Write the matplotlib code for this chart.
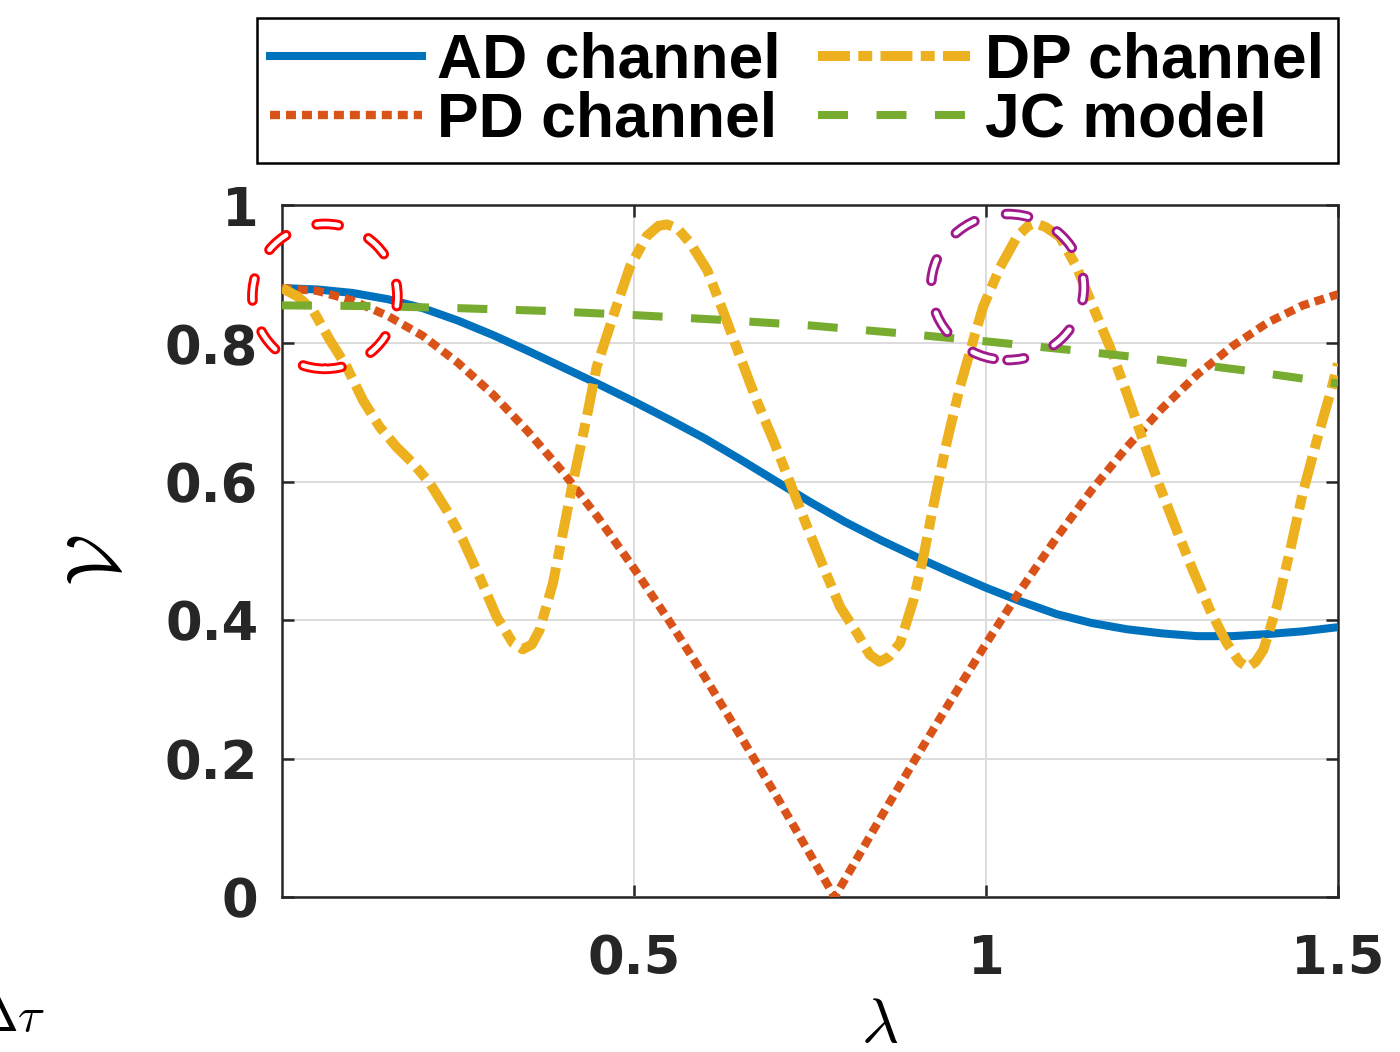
import matplotlib
matplotlib.use('Agg')
import matplotlib.pyplot as plt
from matplotlib.patches import Ellipse

# values
ad_lam = [0.00, 0.05, 0.10, 0.15, 0.20, 0.25, 0.30, 0.35, 0.40, 0.45, 0.50, 0.55, 0.60, 0.65, 0.70, 0.75,
          0.80, 0.85, 0.90, 0.95, 1.00, 1.05, 1.10, 1.15, 1.20, 1.25, 1.30, 1.35, 1.40, 1.45, 1.50]
ad_val = [0.880, 0.878, 0.873, 0.864, 0.851, 0.833, 0.812, 0.789, 0.765, 0.741, 0.716, 0.690, 0.663, 0.633,
          0.602, 0.571, 0.542, 0.516, 0.492, 0.469, 0.447, 0.427, 0.409, 0.396, 0.387, 0.381, 0.377, 0.377,
          0.380, 0.384, 0.390]

pd_lam = [0.00, 0.05, 0.10, 0.15, 0.20, 0.25, 0.30, 0.35, 0.40, 0.45, 0.50, 0.55, 0.60, 0.65, 0.70, 0.75,
          0.785, 0.80, 0.85, 0.90, 0.95, 1.00, 1.05, 1.10, 1.15, 1.20, 1.25, 1.30, 1.35, 1.40, 1.45, 1.50]
pd_val = [0.880, 0.876, 0.862, 0.840, 0.811, 0.772, 0.726, 0.672, 0.613, 0.547, 0.475, 0.399, 0.319, 0.235,
          0.150, 0.062, 0.000, 0.026, 0.114, 0.200, 0.284, 0.366, 0.445, 0.519, 0.588, 0.650, 0.706, 0.755,
          0.796, 0.830, 0.855, 0.871]

dp_lam = [0.000, 0.022, 0.044, 0.068, 0.092, 0.115, 0.139, 0.163, 0.186, 0.210, 0.234, 0.257, 0.281, 0.305,
          0.328, 0.342, 0.355, 0.366, 0.385, 0.399, 0.413, 0.433, 0.447, 0.470, 0.494, 0.518, 0.535, 0.547,
          0.562, 0.580, 0.604, 0.626, 0.651, 0.674, 0.698, 0.722, 0.746, 0.769, 0.793, 0.817, 0.835, 0.849,
          0.862, 0.878, 0.897, 0.911, 0.925, 0.944, 0.963, 0.982, 0.996, 1.020, 1.044, 1.060, 1.070, 1.085,
          1.105, 1.129, 1.152, 1.176, 1.200, 1.223, 1.247, 1.271, 1.294, 1.318, 1.342, 1.360, 1.372, 1.383,
          1.394, 1.413, 1.432, 1.450, 1.470, 1.489, 1.500]
dp_val = [0.880, 0.868, 0.848, 0.805, 0.766, 0.718, 0.679, 0.650, 0.627, 0.598, 0.559, 0.516, 0.462, 0.405,
          0.367, 0.358, 0.365, 0.386, 0.454, 0.526, 0.598, 0.694, 0.766, 0.838, 0.910, 0.955, 0.970, 0.972,
          0.966, 0.945, 0.906, 0.848, 0.780, 0.718, 0.660, 0.598, 0.535, 0.477, 0.419, 0.381, 0.350, 0.340,
          0.347, 0.367, 0.429, 0.491, 0.564, 0.656, 0.737, 0.805, 0.853, 0.910, 0.954, 0.970, 0.974, 0.968,
          0.954, 0.910, 0.853, 0.795, 0.728, 0.660, 0.593, 0.530, 0.472, 0.415, 0.367, 0.340, 0.332, 0.340,
          0.357, 0.419, 0.501, 0.584, 0.660, 0.728, 0.771]

jc_lam = [0.0, 0.125, 0.25, 0.375, 0.5, 0.625, 0.75, 0.875, 1.0, 1.125, 1.25, 1.375, 1.5]
jc_val = [0.855, 0.854, 0.851, 0.847, 0.841, 0.834, 0.826, 0.815, 0.803, 0.790, 0.776, 0.760, 0.742]

x_ticks = [0.5, 1, 1.5]
x_tick_labels = ['0.5', '1', '1.5']
y_ticks = [0, 0.2, 0.4, 0.6, 0.8, 1]
y_tick_labels = ['0', '0.2', '0.4', '0.6', '0.8', '1']

plt.rcParams['mathtext.fontset'] = 'cm'
plt.rcParams['lines.scale_dashes'] = False

fig = plt.figure(figsize=(14, 10.52), dpi=100)
ax = fig.add_axes([0.2014, 0.1473, 0.7543, 0.6578])

ax.plot(ad_lam, ad_val, color='#0072BD', lw=5.8, label='AD channel', zorder=3)
ax.plot(pd_lam, pd_val, color='#D95319', lw=6.0, linestyle=(0, (7.2, 4.3)),
        dash_capstyle='butt', label='PD channel', zorder=3)
ax.plot(dp_lam, dp_val, color='#EDB120', lw=7.2, linestyle=(0, (23, 6, 10, 6)),
        dash_capstyle='butt', label='DP channel', zorder=3)
ax.plot(jc_lam, jc_val, color='#77AC30', lw=5.8, linestyle=(0, (21.6, 20.5)),
        dash_capstyle='butt', label='JC model', zorder=3)

# dashed capsule-style circles
for (cx, cy, w, h, col) in [(0.061, 0.868, 0.206, 0.2095, '#FF0000'),
                            (1.0305, 0.8815, 0.217, 0.211, '#A01A8C')]:
    for lw, c in [(7.6, col), (3.4, 'white')]:
        e = Ellipse((cx, cy), w, h, fill=False, edgecolor=c, lw=lw,
                    linestyle=(4, (16, 23.5)), capstyle='round', clip_on=False, zorder=6)
        ax.add_patch(e)

ax.set_xlim(0, 1.5)
ax.set_ylim(0, 1)
ax.set_xticks(x_ticks)
ax.set_xticklabels(x_tick_labels)
ax.set_yticks(y_ticks)
ax.set_yticklabels(y_tick_labels)
ax.grid(True, color='#dcdcdc', lw=1.4, zorder=0)
ax.set_axisbelow(True)
for s in ax.spines.values():
    s.set_linewidth(1.8)
    s.set_color('#262626')
ax.tick_params(direction='in', length=8.6, width=1.8, color='#262626',
               top=True, right=True)
ax.tick_params(axis='x', pad=26)
ax.tick_params(axis='y', pad=17)
for t in ax.get_xticklabels() + ax.get_yticklabels():
    t.set_fontfamily('DejaVu Sans')
    t.set_fontweight('bold')
    t.set_fontsize(38)
    t.set_color('#262626')

ax.set_ylabel(r'$\mathcal{V}$', fontsize=54)
ax.yaxis.set_label_coords(-0.139, 0.487)
ax.set_xlabel(r'$\lambda$', fontsize=46)
ax.xaxis.set_label_coords((880 - 282) / 1056, -0.138)

fig.text(0.032, 0.033, r'$\Delta\tau$', fontsize=36, ha='right', va='center')

leg = ax.legend(loc='upper right', bbox_to_anchor=(0.9557, 0.9829), bbox_transform=fig.transFigure,
                ncol=2, fancybox=False, framealpha=1, edgecolor='black',
                prop={'family': 'Liberation Sans', 'weight': 'bold', 'size': 45},
                handlelength=2.42, handletextpad=0.25, columnspacing=0.6,
                labelspacing=0.0, borderpad=0.22, borderaxespad=0)
leg.get_frame().set_linewidth(1.8)

fig.savefig('out.png', dpi=100)
